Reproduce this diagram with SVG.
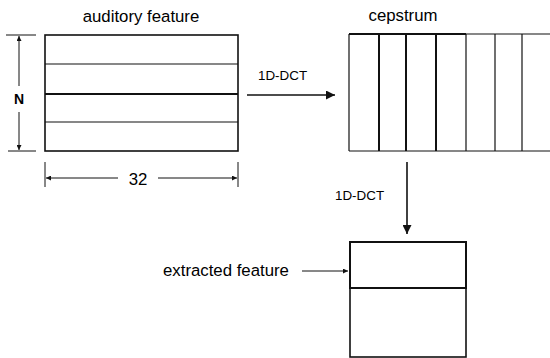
<svg xmlns="http://www.w3.org/2000/svg" width="550" height="358" viewBox="0 0 550 358">
<defs>
<style>
text{font-family:"Liberation Sans",Arial,sans-serif;fill:#000}
.lbl{font-size:16.8px}
.sm{font-size:13.4px}
.box{fill:none;stroke:#111;stroke-width:1.6}
.thick{stroke:#111;stroke-width:2;fill:none}
.thin{stroke:#111;stroke-width:1.2;fill:none}
.conn{stroke:#111;stroke-width:1.6;fill:none}
.dim{stroke:#111;stroke-width:1;fill:none}
</style>
<marker id="big" viewBox="0 0 10 10" refX="10" refY="5" markerWidth="17" markerHeight="9" markerUnits="userSpaceOnUse" orient="auto"><path d="M0,0 L10,5 L0,10 z" fill="#111"/></marker>
<marker id="small" viewBox="0 0 10 10" refX="10" refY="5" markerWidth="8" markerHeight="5" markerUnits="userSpaceOnUse" orient="auto"><path d="M0,0 L10,5 L0,10 z" fill="#111"/></marker>
</defs>
<rect width="550" height="358" fill="#fff"/>

<g id="auditory-feature">
<text class="lbl" x="141" y="22" text-anchor="middle">auditory feature</text>
<rect class="box" x="45" y="35" width="193" height="116"/>
<line class="thin" x1="45" y1="64" x2="238" y2="64"/>
<line class="thick" x1="45" y1="94" x2="238" y2="94"/>
<line class="thin" x1="45" y1="122" x2="238" y2="122"/>
</g>

<g id="dim-N">
<line class="dim" x1="6" y1="35" x2="36" y2="35"/>
<line class="dim" x1="8" y1="151" x2="36" y2="151"/>
<line class="dim" x1="19" y1="86" x2="19" y2="36" marker-end="url(#small)"/>
<line class="dim" x1="19" y1="112" x2="19" y2="150" marker-end="url(#small)"/>
<text x="19" y="104" font-size="14" font-weight="bold" text-anchor="middle">N</text>
</g>

<g id="dim-32">
<line class="dim" x1="45" y1="162" x2="45" y2="187"/>
<line class="dim" x1="238" y1="162" x2="238" y2="187"/>
<line class="dim" x1="118" y1="178" x2="46" y2="178" marker-end="url(#small)"/>
<line class="dim" x1="158" y1="178" x2="237" y2="178" marker-end="url(#small)"/>
<text class="lbl" x="138" y="185" text-anchor="middle">32</text>
</g>

<g id="cepstrum">
<text class="lbl" x="403" y="21" text-anchor="middle">cepstrum</text>
<line class="thick" x1="349" y1="34" x2="466" y2="34"/>
<line class="thin" x1="466" y1="34" x2="550" y2="34"/>
<line class="thin" x1="349" y1="151" x2="550" y2="151"/>
<line class="thin" x1="349" y1="34" x2="349" y2="151"/>
<line class="thick" x1="379" y1="34" x2="379" y2="151"/>
<line class="thick" x1="406" y1="34" x2="406" y2="151"/>
<line class="thick" x1="436" y1="34" x2="436" y2="151"/>
<line class="thin" x1="466" y1="34" x2="466" y2="151"/>
<line class="thin" x1="495" y1="34" x2="495" y2="151"/>
<line class="thin" x1="522" y1="34" x2="522" y2="151"/>
</g>

<g id="extracted-feature">
<rect class="box" x="350" y="242" width="116" height="115" stroke-width="1.2"/>
<rect class="thick" x="350" y="242" width="116" height="46"/>
<text class="lbl" x="163" y="276">extracted feature</text>
</g>

<g id="connectors">
<line class="conn" x1="247" y1="95" x2="335" y2="95" marker-end="url(#big)"/>
<text class="sm" x="258" y="80">1D-DCT</text>
<line class="conn" x1="407" y1="162" x2="407" y2="234" marker-end="url(#big)"/>
<text class="sm" x="335" y="200">1D-DCT</text>
<line class="dim" x1="302" y1="271" x2="348" y2="271" marker-end="url(#small)"/>
</g>
</svg>
